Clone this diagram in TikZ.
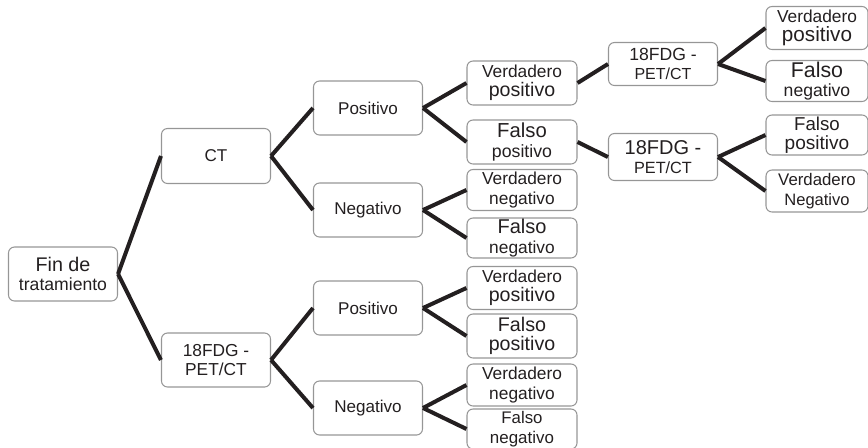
\documentclass[tikz,border=0pt]{standalone}
\usepackage{fontspec}
\setmainfont{Liberation Sans}
\definecolor{boxgray}{RGB}{150,150,150}
\definecolor{ink}{RGB}{35,31,32}
\newcommand{\fz}[1]{\fontsize{#1}{1.15\dimexpr#1pt\relax}\selectfont}

\begin{document}
\begin{tikzpicture}[x=0.75pt, y=-0.75pt,
  main node/.style={draw=boxgray, line width=0.8pt, rounded corners=4.5pt, text=ink, align=center, inner sep=0pt, minimum width=81.75pt, minimum height=40.5pt, font=\fontsize{13}{14.5}\selectfont},
  leaf node/.style={main node, minimum width=82.5pt},
  every edge/.style={draw=ink, line width=3pt}]
\useasboundingbox (0,0) rectangle (868,447);
\node[main node] (1) at (63,274) {\fz{14.8}Fin de\\\fz{13.2}tratamiento};
\node[main node, minimum height=41.25pt] (2) at (216,156) {\fz{12.8}CT};
\node[main node] (3) at (216,360) {\fz{13}18FDG -\\\fz{13}PET/CT};
\node[main node] (4) at (368,108) {\fz{12.8}Positivo};
\node[main node] (5) at (368,210) {\fz{12.8}Negativo};
\node[main node] (6) at (368,308) {\fz{12.8}Positivo};
\node[main node] (7) at (368,408) {\fz{12.8}Negativo};
\node[leaf node, minimum height=33pt] (8) at (522,83) {\fz{13}Verdadero\\\fz{14.7}positivo};
\node[leaf node, minimum height=33pt] (9) at (522,142) {\fz{15.2}Falso\\\fz{13.3}positivo};
\node[leaf node, minimum height=30.75pt] (10) at (522,190) {\fz{13}Verdadero\\\fz{13}negativo};
\node[leaf node, minimum height=30pt] (11) at (522,238) {\fz{15}Falso\\\fz{13}negativo};
\node[leaf node, minimum height=32.25pt] (12) at (522,288) {\fz{13}Verdadero\\\fz{14.7}positivo};
\node[leaf node, minimum height=33pt] (13) at (522,336) {\fz{14.8}Falso\\\fz{14.7}positivo};
\node[leaf node, minimum height=31.5pt] (14) at (522,385) {\fz{13}Verdadero\\\fz{13}negativo};
\node[leaf node, minimum height=30pt] (15) at (522,429) {\fz{12.6}Falso\\\fz{12.7}negativo};
\node[main node, minimum height=32.25pt] (16) at (663,64) {\fz{13.2}18FDG -\\\fz{12}PET/CT};
\node[main node, minimum height=35.25pt] (17) at (663,157) {\fz{15}18FDG -\\\fz{12.2}PET/CT};
\node[leaf node, minimum width=76.5pt, minimum height=32.25pt] (18) at (817,28) {\fz{13}Verdadero\\\fz{15.5}positivo};
\node[leaf node, minimum width=76.5pt, minimum height=30.75pt] (19) at (817,81) {\fz{16}Falso\\\fz{13.2}negativo};
\node[leaf node, minimum width=76.5pt, minimum height=30pt] (20) at (817,135) {\fz{14}Falso\\\fz{14.3}positivo};
\node[leaf node, minimum width=76.5pt, minimum height=31.5pt] (21) at (817,191) {\fz{12.6}Verdadero\\\fz{12.4}Negativo};
\path
(1.east) edge (2.west)
         edge (3.west)
(2.east) edge (4.west)
         edge (5.west)
(3.east) edge (6.west)
         edge (7.west)
(4.east) edge (8.west)
         edge (9.west)
(5.east) edge (10.west)
         edge (11.west)
(6.east) edge (12.west)
         edge (13.west)
(7.east) edge (14.west)
         edge (15.west)
(8.east) edge (16.west)
(9.east) edge (17.west)
(16.east) edge (18.west)
          edge (19.west)
(17.east) edge (20.west)
          edge (21.west);
\end{tikzpicture}
\end{document}
